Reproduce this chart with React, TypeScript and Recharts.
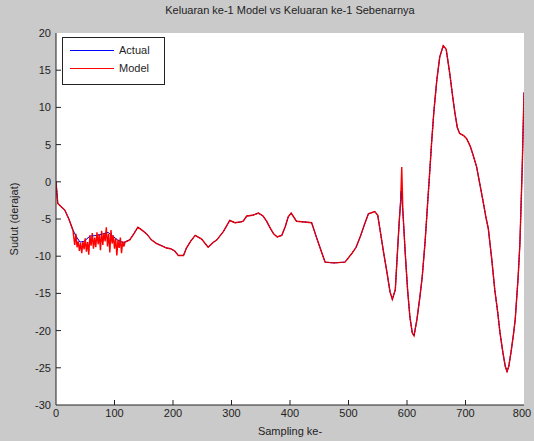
import React from "react";
import { LineChart, Line, XAxis, YAxis } from "recharts";

// sampling index and angle (deg) of the actual output
const sampleX = [
  0, 3, 8, 15, 22, 29, 35, 41, 48, 58, 70, 80, 89, 97, 105, 115, 126, 133, 140,
  147, 155, 163, 172, 181, 189, 196, 203, 209, 218, 223, 230, 238, 249, 260,
  268, 275, 286, 297, 306, 315, 320, 326, 336, 346, 354, 360, 366, 372, 378,
  386, 392, 397, 402, 411, 425, 437, 445, 452, 460, 475, 494, 506, 513, 520,
  527, 534, 545, 550, 554, 560, 566, 571, 575, 580, 584, 587, 590, 593, 597,
  601, 605, 609, 612, 617, 622, 626, 631, 636, 639, 642, 646, 651, 656, 662,
  667, 673, 678, 682, 686, 690, 697, 702, 708, 713, 719, 725, 730, 735, 739,
  745, 750, 755, 759, 764, 768, 771, 774, 778, 782, 785, 790, 793, 797, 800,
];
const actualY = [
  0, -2.9, -3.3, -3.8, -5.0, -6.5, -7.4, -8.1, -8.0, -7.3, -7.2, -7.0, -6.8,
  -7.3, -7.8, -8.2, -7.8, -7.0, -6.1, -6.5, -7.0, -7.8, -8.3, -8.6, -8.9, -9.0,
  -9.3, -9.9, -9.9, -8.9, -8.0, -7.2, -7.7, -8.8, -8.2, -7.8, -6.7, -5.2, -5.5,
  -5.4, -5.3, -4.6, -4.5, -4.2, -4.6, -5.3, -6.2, -7.0, -7.4, -7.2, -6.0, -4.7,
  -4.2, -5.3, -5.4, -5.5, -7.4, -9.0, -10.8, -10.9, -10.8, -9.6, -8.8, -7.4,
  -5.8, -4.3, -4.0, -4.5, -6.5, -9.5, -12.3, -14.8, -15.8, -14.5, -9.0, -5.0,
  -1.3, -4.0, -9.6, -14.5, -18.2, -20.3, -20.7, -18.5, -15.5, -12.8, -8.0,
  -2.0, 1.5, 5.2, 9.5, 13.7, 16.8, 18.3, 17.8, 14.6, 11.5, 9.2, 7.3, 6.5, 6.2,
  5.8, 4.8, 3.6, 2.0, -0.5, -2.6, -4.8, -6.3, -10.5, -14.5, -17.5, -20.3, -23.0,
  -24.8, -25.5, -24.8, -22.8, -20.5, -18.5, -12.8, -8.3, 2, 12,
];

// model output where it departs from the actual one
const noiseX = [
  30, 32, 34, 36, 38, 40, 42, 44, 46, 48, 50, 52, 54, 56, 58, 60, 62, 64, 66,
  68, 70, 72, 74, 76, 78, 80, 82, 84, 86, 88, 90, 92, 94, 96, 98, 100, 102, 104,
  106, 108, 110, 112, 114, 116, 118,
];
const noiseY = [
  -7.2, -8.5, -7.0, -8.8, -8.0, -9.3, -8.2, -9.6, -8.0, -9.1, -7.6, -9.4, -8.1,
  -9.8, -7.2, -8.6, -6.9, -9.0, -7.5, -8.8, -6.8, -8.4, -7.1, -9.2, -6.6, -8.5,
  -6.9, -8.0, -6.1, -8.7, -7.0, -9.5, -6.5, -8.3, -7.2, -9.0, -7.6, -9.9, -7.8,
  -8.9, -7.5, -9.6, -8.0, -8.7, -8.1,
];
const spikeX = [589, 591, 593];
const spikeY = [-3, 2, -4];

const yTicks = [-30, -25, -20, -15, -10, -5, 0, 5, 10, 15, 20];
const xTicks = [0, 100, 200, 300, 400, 500, 600, 700, 800];

const actualData = sampleX.map((s, i) => ({ s, v: actualY[i] }));
const modelData = [
  ...actualData.filter(
    (d) => !(d.s >= 30 && d.s <= 118) && !(d.s >= 589 && d.s <= 593)
  ),
  ...noiseX.map((s, i) => ({ s, v: noiseY[i] })),
  ...spikeX.map((s, i) => ({ s, v: spikeY[i] })),
].sort((a, b) => a.s - b.s);

const FONT = "'Liberation Sans', Arial, sans-serif";
const TXT = "#1e1e1e";

const LeftTick = (props: any) => {
  const { x, y, payload } = props;
  return (
    <g>
      <text x={x} y={y + 4} textAnchor="end" fontSize={11} fill={TXT} fontFamily={FONT}>
        {payload.value}
      </text>
      {payload.value > -30 && payload.value < 20 && (
        <line x1={x + 5} x2={x + 10} y1={y} y2={y} stroke="#222" />
      )}
    </g>
  );
};

const RightTick = (props: any) => {
  const { x, y, payload } = props;
  if (payload.value <= -30 || payload.value >= 20) return null;
  return <line x1={x - 5} x2={x} y1={y} y2={y} stroke="#222" />;
};

const BottomTick = (props: any) => {
  const { x, y, payload } = props;
  return (
    <g>
      <text x={x} y={y + 12} textAnchor="middle" fontSize={11} fill={TXT} fontFamily={FONT}>
        {payload.value}
      </text>
      {payload.value > 0 && payload.value < 800 && (
        <line x1={x} x2={x} y1={y} y2={y - 5} stroke="#222" />
      )}
    </g>
  );
};

const TopTick = (props: any) => {
  const { x, y, payload } = props;
  if (payload.value <= 0 || payload.value >= 800) return null;
  return <line x1={x} x2={x} y1={y} y2={y + 5} stroke="#222" />;
};

const legendItems = [
  { name: "Actual", color: "#0000ff", top: 6 },
  { name: "Model", color: "#ff0000", top: 24 },
];

export default function App() {
  return (
    <div
      style={{
        position: "fixed",
        left: 0,
        top: 0,
        width: 534,
        height: 441,
        background: "#cacaca",
        fontFamily: FONT,
      }}
    >
      <LineChart
        width={534}
        height={441}
        margin={{ top: 33, right: 10, left: 0, bottom: 0 }}
        style={{ position: "absolute", left: 0, top: 0 }}
      >
        <rect x={56} y={33} width={468} height={372} fill="#fff" />
        <XAxis
          xAxisId="b"
          dataKey="s"
          type="number"
          domain={[0, 800]}
          ticks={xTicks}
          height={36}
          tickSize={0}
          tickMargin={0}
          tick={<BottomTick />}
          axisLine={{ stroke: "#222" }}
          allowDataOverflow
        />
        <XAxis
          xAxisId="t"
          orientation="top"
          dataKey="s"
          type="number"
          domain={[0, 800]}
          ticks={xTicks}
          height={0}
          tickSize={0}
          tickMargin={0}
          tick={<TopTick />}
          axisLine={{ stroke: "#222" }}
          allowDataOverflow
        />
        <YAxis
          yAxisId="l"
          type="number"
          domain={[-30, 20]}
          ticks={yTicks}
          width={56}
          tickSize={0}
          tickMargin={5}
          tick={<LeftTick />}
          axisLine={{ stroke: "#222" }}
          allowDataOverflow
        />
        <YAxis
          yAxisId="r"
          orientation="right"
          type="number"
          domain={[-30, 20]}
          ticks={yTicks}
          width={0}
          tickSize={0}
          tickMargin={0}
          tick={<RightTick />}
          axisLine={{ stroke: "#222" }}
          allowDataOverflow
        />
        <Line
          name="Actual"
          data={actualData}
          xAxisId="b"
          yAxisId="l"
          dataKey="v"
          type="linear"
          stroke="#0000ff"
          strokeWidth={1}
          dot={false}
          isAnimationActive={false}
        />
        <Line
          name="Model"
          data={modelData}
          xAxisId="b"
          yAxisId="l"
          dataKey="v"
          type="linear"
          stroke="#ff0000"
          strokeWidth={1.4}
          dot={false}
          isAnimationActive={false}
        />
        <Line
          data={actualData}
          xAxisId="b"
          yAxisId="l"
          dataKey="v"
          type="linear"
          stroke="#3a0a4a"
          strokeWidth={1}
          strokeDasharray="1 2"
          strokeOpacity={0.75}
          dot={false}
          legendType="none"
          isAnimationActive={false}
        />
      </LineChart>
      <div
        style={{
          position: "absolute",
          left: 56,
          width: 468,
          top: 4,
          textAlign: "center",
          fontSize: 11,
          color: TXT,
        }}
      >
        Keluaran ke-1 Model vs Keluaran ke-1 Sebenarnya
      </div>
      <div
        style={{
          position: "absolute",
          left: 14,
          top: 219,
          transform: "translate(-50%, -50%) rotate(-90deg)",
          whiteSpace: "nowrap",
          fontSize: 11,
          color: TXT,
        }}
      >
        Sudut (derajat)
      </div>
      <div
        style={{
          position: "absolute",
          left: 56,
          width: 468,
          top: 425,
          textAlign: "center",
          fontSize: 11,
          color: TXT,
        }}
      >
        Sampling ke-
      </div>
      <div
        style={{
          position: "absolute",
          left: 62,
          top: 37,
          width: 101,
          height: 46,
          background: "#fff",
          border: "1px solid #222",
          fontSize: 11,
          color: TXT,
        }}
      >
        {legendItems.map((it) => (
          <div
            key={it.name}
            style={{ position: "absolute", left: 7, top: it.top, display: "flex", alignItems: "center" }}
          >
            <div style={{ width: 44, height: 1, background: it.color, marginRight: 5 }} />
            <span>{it.name}</span>
          </div>
        ))}
      </div>
    </div>
  );
}
